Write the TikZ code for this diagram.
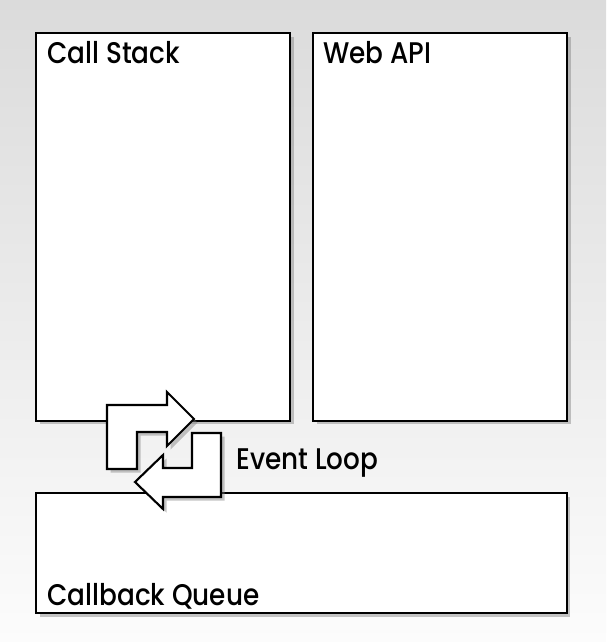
\documentclass[tikz,border=0pt]{standalone}
\usepackage{fontspec}
\setmainfont{Poppins Medium}[FakeStretch=0.88]
\usetikzlibrary{shadows}
\definecolor{bgtop}{RGB}{219,219,219}
\definecolor{bgbottom}{RGB}{252,252,252}

\tikzset{
    panel/.style={draw=black, line width=1.2pt, fill=white, anchor=north west,
        drop shadow={shadow xshift=0.07cm, shadow yshift=-0.07cm, opacity=0.45}},
    loopshape/.style={draw=black, line width=1.2pt, fill=white, line join=miter,
        drop shadow={shadow xshift=0.07cm, shadow yshift=-0.07cm, opacity=0.45}},
    lbl/.style={anchor=base west, inner sep=0pt, font=\fontsize{17}{20}\selectfont}
}

\begin{document}
\begin{tikzpicture}[x=0.02cm, y=-0.02cm]
% Background
\shade[top color=bgtop, bottom color=bgbottom] (0,0) rectangle (606,642);
\useasboundingbox (0,0) rectangle (606,642);

% The three panels
\node[panel, minimum width=5.08cm, minimum height=7.76cm] (stack) at (35,32) {};
\node[panel, minimum width=5.08cm, minimum height=7.76cm] (webapi) at (312,32) {};
\node[panel, minimum width=10.62cm, minimum height=2.4cm] (queue) at (35,492) {};

% Panel titles
\node[lbl] (stacklbl) at (47,64) {Call Stack};
\node[lbl] (webapilbl) at (323,64) {Web API};
\node[lbl] (queuelbl) at (47,605) {Callback Queue};

% Event loop arrows
\path[loopshape] (107,405) -- (167,405) -- (167,392) -- (194,419) -- (167,446)
    -- (167,432) -- (137,432) -- (137,469) -- (107,469) -- cycle; % to the right
\path[loopshape] (221,433) -- (221,497) -- (163,497) -- (163,509) -- (135,482)
    -- (163,455) -- (163,468) -- (192,468) -- (192,433) -- cycle; % to the left
\node[lbl] (looplbl) at (236,469) {Event Loop};
\end{tikzpicture}
\end{document}
